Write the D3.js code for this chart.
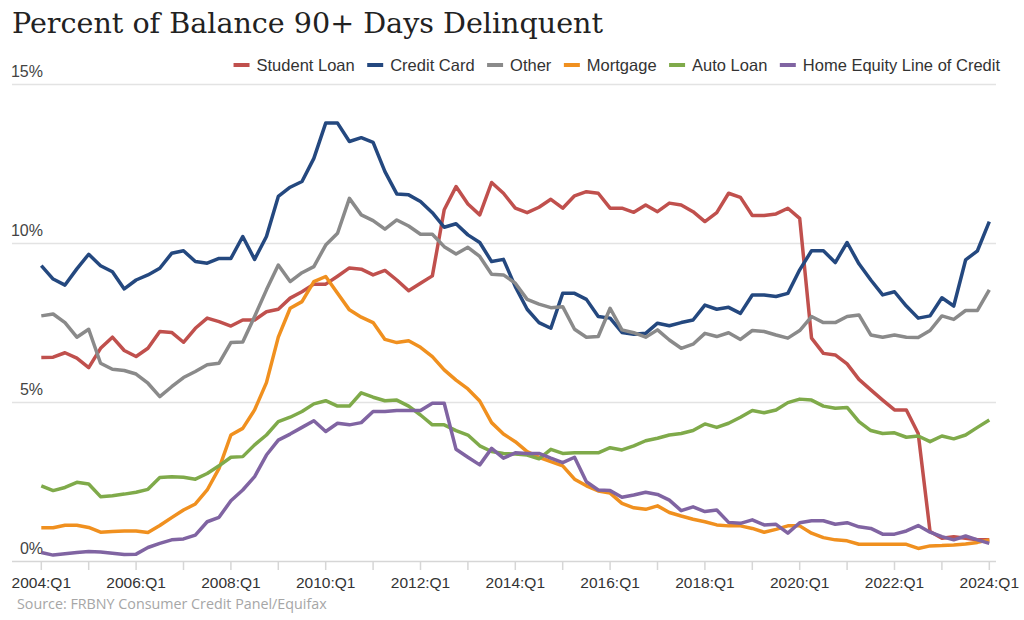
<!DOCTYPE html>
<html><head><meta charset="utf-8">
<script src="https://cdn.jsdelivr.net/npm/d3@7"></script>
<style>
html,body{margin:0;padding:0;background:#fff;}
svg{display:block;}
</style></head>
<body>
<svg id="chart" width="1024" height="620"></svg>
<script>
// quarters 2004:Q1 .. 2024:Q1
const startYear = 2004, nQuarters = 81;
const quarters = d3.range(nQuarters).map(i => `${startYear + Math.floor(i/4)}:Q${i%4+1}`);
const xTickLabels = ["2004:Q1","2006:Q1","2008:Q1","2010:Q1","2012:Q1","2014:Q1","2016:Q1","2018:Q1","2020:Q1","2022:Q1","2024:Q1"];
const yTicks = [0, 5, 10, 15];
const seriesNames = ["Student Loan","Credit Card","Other","Mortgage","Auto Loan","Home Equity Line of Credit"];
const seriesColors = ["#c0504d","#24487f","#8a8a8a","#f0901f","#7faa4a","#8064a2"];

const studentLoan = [6.39,6.40,6.54,6.37,6.07,6.68,7.03,6.61,6.42,6.68,7.21,7.18,6.87,7.31,7.63,7.52,7.38,7.57,7.57,7.83,7.91,8.26,8.46,8.70,8.70,8.95,9.21,9.17,8.99,9.13,8.83,8.49,8.73,8.96,11.04,11.77,11.22,10.88,11.90,11.56,11.09,10.95,11.12,11.37,11.09,11.48,11.61,11.56,11.09,11.09,10.96,11.19,10.98,11.25,11.19,10.98,10.67,10.95,11.56,11.43,10.86,10.86,10.91,11.09,10.77,7.00,6.52,6.47,6.19,5.70,5.37,5.05,4.74,4.74,4.00,0.91,0.70,0.75,0.70,0.65,0.65];
const creditCard = [9.28,8.86,8.67,9.18,9.64,9.28,9.09,8.55,8.83,8.99,9.20,9.67,9.75,9.41,9.36,9.51,9.51,10.20,9.48,10.20,11.46,11.75,11.93,12.66,13.77,13.77,13.19,13.31,13.16,12.24,11.54,11.51,11.30,10.95,10.49,10.60,10.25,10.01,9.41,9.48,8.62,7.91,7.49,7.31,8.41,8.41,8.22,7.68,7.63,7.18,7.12,7.15,7.47,7.39,7.49,7.57,8.04,7.91,7.97,7.78,8.36,8.36,8.31,8.41,9.15,9.75,9.75,9.38,10.01,9.34,8.83,8.36,8.46,8.01,7.63,7.70,8.27,8.01,9.46,9.75,10.67];
const other = [7.70,7.76,7.49,7.03,7.28,6.21,6.02,5.98,5.87,5.58,5.16,5.47,5.76,5.95,6.16,6.21,6.86,6.88,7.68,8.52,9.30,8.78,9.06,9.25,9.93,10.30,11.40,10.88,10.70,10.43,10.72,10.53,10.27,10.27,9.88,9.65,9.86,9.57,9.01,8.99,8.73,8.22,8.07,7.96,7.99,7.28,7.03,7.05,7.94,7.26,7.17,7.03,7.26,6.94,6.68,6.81,7.15,7.05,7.17,6.96,7.24,7.21,7.10,7.00,7.24,7.68,7.49,7.49,7.68,7.73,7.10,7.03,7.10,7.03,7.02,7.24,7.70,7.59,7.87,7.87,8.52];
const mortgage = [1.03,1.03,1.11,1.11,1.04,0.89,0.91,0.93,0.93,0.88,1.10,1.35,1.59,1.78,2.22,2.90,3.95,4.16,4.74,5.60,7.03,7.94,8.15,8.78,8.94,8.41,7.89,7.66,7.49,6.96,6.86,6.92,6.71,6.42,6.00,5.68,5.40,5.02,4.34,3.98,3.74,3.43,3.25,3.11,2.98,2.56,2.35,2.19,2.12,1.80,1.66,1.61,1.72,1.51,1.40,1.30,1.22,1.12,1.09,1.09,1.01,0.89,0.98,1.09,1.09,0.86,0.72,0.65,0.62,0.51,0.51,0.51,0.51,0.51,0.38,0.46,0.47,0.49,0.52,0.57,0.65];
const autoLoan = [2.35,2.20,2.30,2.46,2.41,2.01,2.04,2.09,2.15,2.24,2.61,2.64,2.62,2.56,2.74,2.98,3.25,3.27,3.64,3.95,4.37,4.51,4.69,4.93,5.03,4.86,4.86,5.28,5.14,5.03,5.05,4.86,4.58,4.27,4.27,4.09,3.95,3.61,3.43,3.37,3.35,3.32,3.20,3.50,3.37,3.39,3.39,3.39,3.55,3.48,3.61,3.77,3.85,3.95,4.00,4.09,4.30,4.19,4.32,4.51,4.72,4.65,4.74,4.97,5.08,5.05,4.86,4.79,4.82,4.37,4.09,4.00,4.02,3.88,3.92,3.74,3.92,3.83,3.95,4.19,4.42];
const heloc = [0.25,0.17,0.21,0.25,0.28,0.27,0.23,0.19,0.20,0.41,0.54,0.65,0.68,0.80,1.22,1.36,1.88,2.22,2.64,3.32,3.79,3.98,4.19,4.40,4.06,4.32,4.27,4.34,4.69,4.69,4.72,4.72,4.72,4.95,4.95,3.50,3.25,3.01,3.53,3.22,3.39,3.37,3.37,3.22,3.08,3.25,2.48,2.22,2.20,1.99,2.06,2.15,2.08,1.90,1.57,1.69,1.54,1.59,1.20,1.17,1.28,1.12,1.14,0.86,1.19,1.25,1.25,1.14,1.19,1.06,1.01,0.83,0.83,0.93,1.10,0.89,0.75,0.65,0.77,0.65,0.54];
const seriesValues = [studentLoan, creditCard, other, mortgage, autoLoan, heloc];

const svg = d3.select("#chart");
const plotLeft = 12, plotRight = 996;
const x = d3.scaleLinear().domain([0, nQuarters-1]).range([41.3, 989.3]);
const y = d3.scaleLinear().domain([0, 15]).range([560.5, 84]);

// title
const title = svg.append("text").attr("x", 12).attr("y", 33)
  .attr("font-family", "'DejaVu Serif',Georgia,serif")
  .attr("font-size", 27).attr("fill", "#222")
  .text("Percent of Balance 90+ Days Delinquent");
const tw = title.node().getComputedTextLength();
if (Math.abs(tw - 591) > 4) title.attr("textLength", 591).attr("lengthAdjust", "spacingAndGlyphs");

// gridlines
svg.append("g").selectAll("line").data(yTicks.filter(d => d > 0)).join("line")
  .attr("x1", plotLeft).attr("x2", plotRight)
  .attr("y1", d => Math.round(y(d)) + 0.5).attr("y2", d => Math.round(y(d)) + 0.5)
  .attr("stroke", "#e3e3e3").attr("stroke-width", 1.5);

// y labels
svg.append("g").selectAll("text").data(yTicks).join("text")
  .attr("x", 43).attr("y", d => y(d) - 7)
  .attr("text-anchor", "end")
  .attr("font-family", "'Liberation Sans',Arial,sans-serif")
  .attr("font-size", 16).attr("fill", "#444")
  .text(d => d + "%");

// x axis
const xAxisG = svg.append("g").attr("transform", `translate(0,${Math.round(y(0))})`);
xAxisG.append("line").attr("x1", plotLeft).attr("x2", plotRight).attr("y1", 0.5).attr("y2", 0.5)
  .attr("stroke", "#d6d6d6").attr("stroke-width", 1.5);
const tickIdx = d3.range(0, nQuarters, 4);
xAxisG.selectAll("line.tick").data(tickIdx).join("line").attr("class", "tick")
  .attr("x1", d => x(d)).attr("x2", d => x(d)).attr("y1", 0).attr("y2", 9)
  .attr("stroke", "#d6d6d6").attr("stroke-width", 1.5);
xAxisG.selectAll("text").data(xTickLabels).join("text")
  .attr("x", d => x(quarters.indexOf(d))).attr("y", 27)
  .attr("text-anchor", "middle")
  .attr("font-family", "'Liberation Sans',Arial,sans-serif")
  .attr("font-size", 15.5).attr("fill", "#333")
  .text(d => d);

// lines
const line = d3.line().x((d, i) => x(i)).y(d => y(d));
svg.append("g").selectAll("path").data(seriesValues).join("path")
  .attr("d", d => line(d))
  .attr("fill", "none")
  .attr("stroke", (d, i) => seriesColors[i])
  .attr("stroke-width", 3.5)
  .attr("stroke-linejoin", "round");

// legend (right-aligned at x=1000)
const legG = svg.append("g");
const items = legG.selectAll("g").data(seriesNames).join("g");
items.append("line").attr("x1", 0).attr("x2", 16).attr("y1", 0).attr("y2", 0)
  .attr("stroke", (d, i) => seriesColors[i]).attr("stroke-width", 4);
items.append("text").attr("x", 23).attr("y", 5.7)
  .attr("font-family", "'Liberation Sans',Arial,sans-serif")
  .attr("font-size", 16.5).attr("fill", "#333")
  .text(d => d);
const widths = [];
items.each(function() { widths.push(23 + d3.select(this).select("text").node().getComputedTextLength()); });
const gap = 12.5;
const total = d3.sum(widths) + gap * (widths.length - 1);
let cx = 1000 - total;
items.attr("transform", (d, i) => { const t = `translate(${cx},65)`; cx += widths[i] + gap; return t; });

// source
svg.append("text").attr("x", 17).attr("y", 609)
  .attr("font-family", "'Open Sans','Noto Sans',sans-serif")
  .attr("font-size", 14.3).attr("fill", "#a6a6a6")
  .text("Source: FRBNY Consumer Credit Panel/Equifax");
</script>
</body></html>
